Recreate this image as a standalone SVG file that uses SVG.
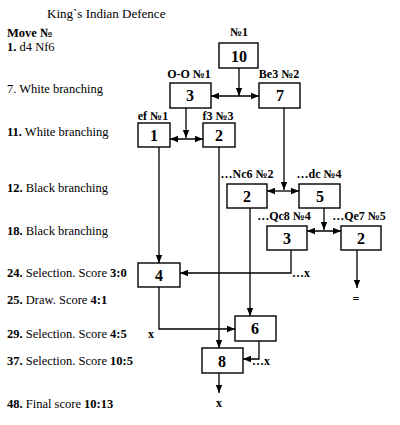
<svg xmlns="http://www.w3.org/2000/svg" width="400" height="425" viewBox="0 0 400 425">
<style>
text{font-family:"Liberation Serif","Times New Roman",serif;fill:#000}
.t{font-size:13px}
.l{font-size:12.5px}
.b{font-weight:bold}
.lab{font-size:12px;font-weight:bold;text-anchor:middle}
.num{font-size:16px;font-weight:bold;text-anchor:middle}
.box{fill:#fff;stroke:#000;stroke-width:1.4}
.c{fill:none;stroke:#000;stroke-width:1.3}
.a{marker-end:url(#ah)}
.d{marker-start:url(#ah);marker-end:url(#ah)}
</style>
<defs>
<marker id="ah" markerUnits="userSpaceOnUse" markerWidth="8" markerHeight="8" viewBox="0 0 8 8" refX="8" refY="4" orient="auto-start-reverse">
<path d="M0,0.8 L8,4 L0,7.2 Z" fill="#000"/>
</marker>
</defs>
<rect width="400" height="425" fill="#fff"/>
<text class="t" x="47" y="18">King`s Indian Defence</text>
<text class="l b" x="7" y="37">Move №</text>
<text class="l" x="7" y="51"><tspan class="b">1.</tspan> d4 Nf6</text>
<text class="l" x="7" y="93">7. White branching</text>
<text class="l" x="7" y="136"><tspan class="b">11.</tspan> White branching</text>
<text class="l" x="7" y="192"><tspan class="b">12.</tspan> Black branching</text>
<text class="l" x="7" y="235"><tspan class="b">18.</tspan> Black branching</text>
<text class="l" x="7" y="277"><tspan class="b">24.</tspan> Selection. Score <tspan class="b">3:0</tspan></text>
<text class="l" x="7" y="304"><tspan class="b">25.</tspan> Draw. Score <tspan class="b">4:1</tspan></text>
<text class="l" x="7" y="338"><tspan class="b">29.</tspan> Selection. Score <tspan class="b">4:5</tspan></text>
<text class="l" x="7" y="365"><tspan class="b">37.</tspan> Selection. Score <tspan class="b">10:5</tspan></text>
<text class="l" x="7" y="408"><tspan class="b">48.</tspan> Final score <tspan class="b">10:13</tspan></text>
<g id="connectors">
<path class="c a" d="M239,68 V96"/>
<path class="c d" d="M211,96 H259"/>
<path class="c a" d="M186,108 V138"/>
<path class="c d" d="M170,139 H203"/>
<path class="c a" d="M159,147 V263"/>
<path class="c a" d="M219,147 V348"/>
<path class="c a" d="M284,108 V190"/>
<path class="c d" d="M267,191 H299"/>
<path class="c a" d="M324,208 V230"/>
<path class="c d" d="M307,231 H341"/>
<path class="c a" d="M357,250 V288"/>
<path class="c a" d="M291,250 V273 H180"/>
<path class="c a" d="M250,208 V316"/>
<path class="c a" d="M159,287 V329 H235"/>
<path class="c a" d="M259,341 V359 H243"/>
<path class="c a" d="M219,373 V393"/>
</g>
<g id="n10"><text class="lab" x="239" y="36">№1</text><rect class="box" x="219" y="43" width="39" height="25"/><text class="num" x="239" y="62">10</text></g>
<g id="n3"><text class="lab" x="189" y="78">O-O №1</text><rect class="box" x="170" y="83" width="41" height="25"/><text class="num" x="190" y="101">3</text></g>
<g id="n7"><text class="lab" x="279" y="78">Be3 №2</text><rect class="box" x="259" y="83" width="41" height="25"/><text class="num" x="280" y="101">7</text></g>
<g id="n1"><text class="lab" x="153" y="120">ef №1</text><rect class="box" x="138" y="123" width="32" height="24"/><text class="num" x="154" y="141">1</text></g>
<g id="n2"><text class="lab" x="218" y="120">f3 №3</text><rect class="box" x="203" y="123" width="32" height="24"/><text class="num" x="219" y="141">2</text></g>
<g id="nNc6"><text class="lab" x="247" y="178">…Nc6 №2</text><rect class="box" x="227" y="184" width="40" height="24"/><text class="num" x="247" y="202">2</text></g>
<g id="n5"><text class="lab" x="319" y="178">…dc №4</text><rect class="box" x="299" y="184" width="41" height="24"/><text class="num" x="320" y="202">5</text></g>
<g id="nQc8"><text class="lab" x="284" y="220">…Qc8 №4</text><rect class="box" x="267" y="226" width="40" height="24"/><text class="num" x="287" y="244">3</text></g>
<g id="nQe7"><text class="lab" x="359" y="220">…Qe7 №5</text><rect class="box" x="341" y="226" width="40" height="24"/><text class="num" x="361" y="244">2</text></g>
<g id="n4"><rect class="box" x="138" y="263" width="42" height="24"/><text class="num" x="159" y="281">4</text></g>
<g id="n6"><rect class="box" x="235" y="316" width="41" height="25"/><text class="num" x="255" y="334">6</text></g>
<g id="n8"><rect class="box" x="202" y="348" width="41" height="25"/><text class="num" x="222" y="367">8</text></g>
<text class="lab" x="301" y="277">…x</text>
<text class="lab" x="356" y="303">=</text>
<text class="lab" x="151" y="338">x</text>
<text class="lab" x="261" y="365">…x</text>
<text class="lab" x="219" y="407">x</text>
</svg>
